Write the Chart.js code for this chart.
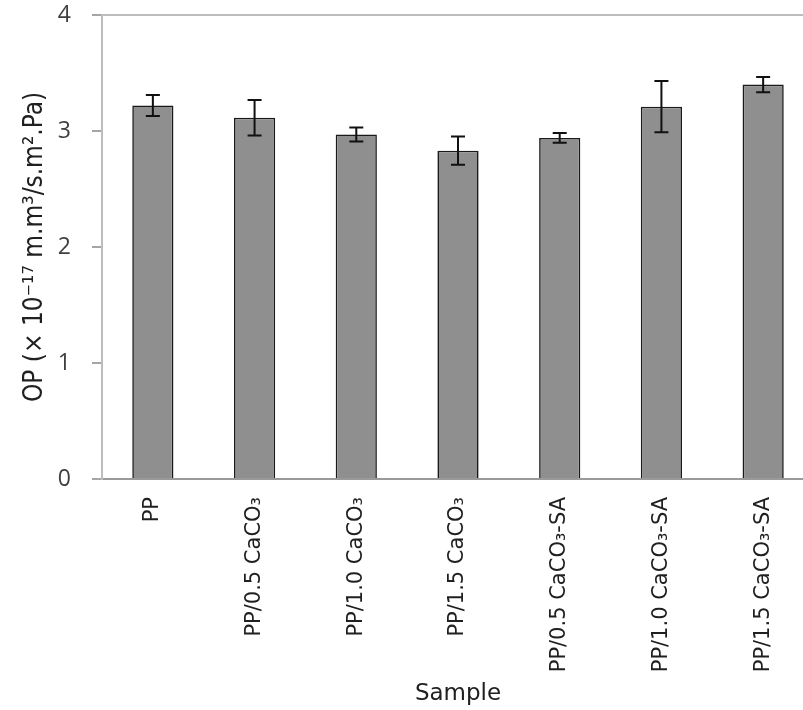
<!DOCTYPE html>
<html>
<head>
<meta charset="utf-8">
<script src="https://cdn.jsdelivr.net/npm/chart.js@4/dist/chart.umd.min.js"></script>
<style>
  html, body { margin: 0; padding: 0; background: #ffffff; overflow: hidden; }
  #wrap { width: 820px; height: 710px; }
</style>
</head>
<body>
<div id="wrap"><canvas id="c" width="820" height="710"></canvas></div>
<script>
// Oxygen permeability of PP films with CaCO3 / stearic-acid-treated CaCO3
const samples = [
  'PP',
  'PP/0.5 CaCO₃',
  'PP/1.0 CaCO₃',
  'PP/1.5 CaCO₃',
  'PP/0.5 CaCO₃-SA',
  'PP/1.0 CaCO₃-SA',
  'PP/1.5 CaCO₃-SA'
];
const opValues = [3.22, 3.115, 2.97, 2.83, 2.94, 3.21, 3.40];
const opErrors = [0.09, 0.153, 0.06, 0.122, 0.042, 0.22, 0.066];
const yTicks = [0, 1, 2, 3, 4];

const FONT = "'Open Sans', 'DejaVu Sans', sans-serif";
const WIDE = "'DejaVu Sans', sans-serif";
const NARROW = "'DejaVu Sans Condensed', 'DejaVu Sans', sans-serif";

// Draws +/- error whiskers with caps over each bar
const errorBars = {
  id: 'errorBars',
  afterDatasetsDraw(chart) {
    const ctx = chart.ctx;
    const yScale = chart.scales.y;
    const meta = chart.getDatasetMeta(0);
    ctx.save();
    ctx.strokeStyle = '#111111';
    ctx.lineWidth = 2;
    meta.data.forEach((bar, i) => {
      const v = opValues[i], e = opErrors[i];
      const yTop = yScale.getPixelForValue(v + e);
      const yBot = yScale.getPixelForValue(v - e);
      const x = bar.x;
      const cap = 7;
      ctx.beginPath();
      ctx.moveTo(x, yTop); ctx.lineTo(x, yBot);
      ctx.moveTo(x - cap, yTop); ctx.lineTo(x + cap, yTop);
      ctx.moveTo(x - cap, yBot); ctx.lineTo(x + cap, yBot);
      ctx.stroke();
    });
    ctx.restore();
  }
};

new Chart(document.getElementById('c'), {
  type: 'bar',
  data: {
    labels: samples,
    datasets: [{
      data: opValues,
      backgroundColor: '#8f8f8f',
      borderColor: '#1a1a1a',
      borderWidth: 1.6,
      barPercentage: 0.405,
      categoryPercentage: 1.0
    }]
  },
  options: {
    responsive: false,
    animation: false,
    events: [],
    layout: { padding: { top: 15, left: 0, right: 6, bottom: 0 } },
    plugins: { legend: { display: false }, tooltip: { enabled: false } },
    scales: {
      x: {
        grid: { display: false },
        border: { display: true, color: '#9a9a9a', width: 2 },
        ticks: {
          minRotation: 90, maxRotation: 90,
          autoSkip: false,
          padding: 10,
          color: '#202020',
          font: { family: WIDE, size: 21 }
        },
        title: {
          display: true,
          text: 'Sample',
          color: '#202020',
          font: { family: WIDE, size: 23 },
          padding: { top: 0, bottom: 2 }
        },
        afterFit(scale) {
          scale.height = 231;
          scale.paddingTop = 0; scale.paddingBottom = 0;
        }
      },
      y: {
        min: 0, max: 4,
        afterBuildTicks(scale) { scale.ticks = yTicks.map(v => ({ value: v })); },
        grid: {
          drawOnChartArea: true,
          drawTicks: true,
          tickLength: 10,
          tickColor: '#a6a6a6',
          lineWidth: 2,
          color: ctx => (ctx.tick && ctx.tick.value === 4) ? '#bdbdbd' : 'rgba(0,0,0,0)'
        },
        border: { display: true, color: '#bdbdbd', width: 2 },
        ticks: {
          padding: 21,
          color: '#404040',
          font: { family: FONT, size: 23 }
        },
        title: {
          display: true,
          text: 'OP (× 10⁻¹⁷ m.m³/s.m².Pa)',
          color: '#202020',
          font: { family: NARROW, size: 26 },
          padding: { top: 20, bottom: 0 }
        },
        afterFit(scale) {
          scale.width = 102;
          scale.paddingTop = 0; scale.paddingBottom = 0;
        }
      }
    }
  },
  plugins: [errorBars]
});
</script>
</body>
</html>
